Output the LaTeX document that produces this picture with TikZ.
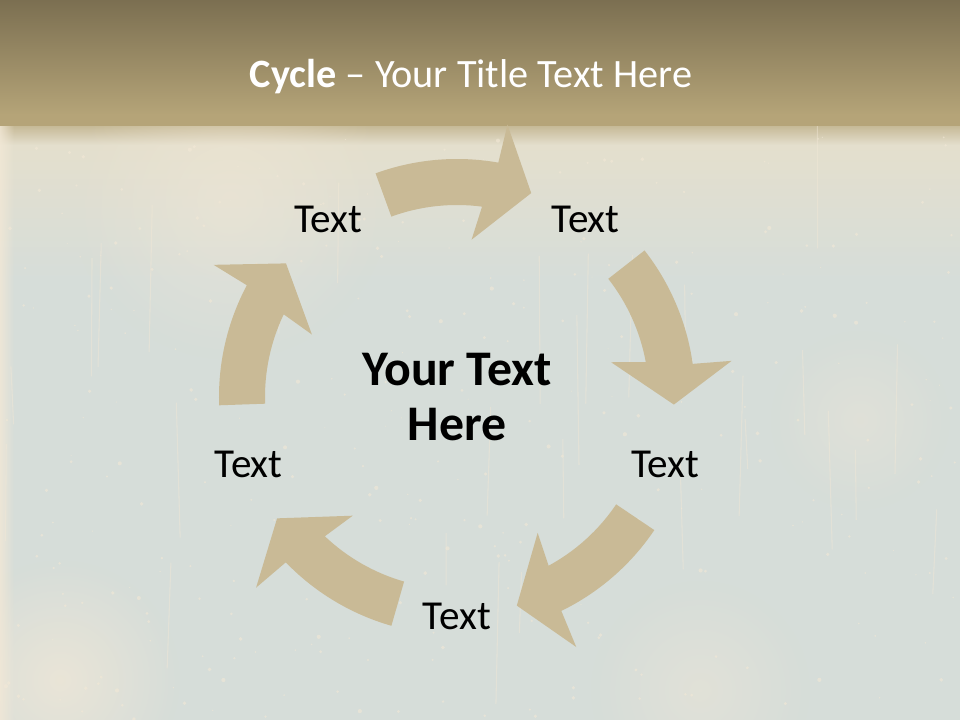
\documentclass[tikz,border=0pt]{standalone}
\usepackage{fontspec}
\setmainfont{Carlito}
\usetikzlibrary{fadings,calc}
\definecolor{bandtop}{HTML}{7B6F51}
\definecolor{bandbot}{HTML}{B5A478}
\definecolor{paper}{HTML}{D6DDD9}
\definecolor{mist}{HTML}{E4DFCD}
\definecolor{cream}{HTML}{F2E8D6}
\definecolor{arrowtan}{HTML}{C9BA96}
\tikzfading[name=softspot, inner color=transparent!0, outer color=transparent!100]
\begin{document}
\begin{tikzpicture}[x=0.75bp,y=0.75bp]
      % Define styles for the cycle
      \tikzset{
        steplabel/.style={inner sep=0pt, text=black,
          font=\fontsize{31}{37}\selectfont},
        hubtext/.style={align=center, inner sep=0pt, text=black,
          font=\fontsize{37.5}{42}\selectfont\bfseries},
        cyclearrow/.pic={
          \fill[arrowtan] (110:238) arc[start angle=110, end angle=80, radius=238]
            -- (79.5:277) -- (70:217) -- (84.7:158) -- (82.5:192)
            arc[start angle=82.5, end angle=110, radius=192] -- cycle;
        }
      }
      \useasboundingbox (0,0) rectangle (960,720);

      % Background paper
      \fill[paper] (0,0) rectangle (960,720);
      \shade[top color=mist, bottom color=paper] (0,440) rectangle (960,575);
      \shade[top color=bandbot!70!mist, bottom color=mist] (0,575) rectangle (960,596);
      \fill[cream, path fading=east, opacity=.8] (0,0) rectangle (14,596);
      \fill[cream, path fading=softspot, opacity=.7] (60,40) circle (120);
      \fill[cream, path fading=softspot, opacity=.5] (230,520) circle (160);
      \fill[cream, path fading=softspot, opacity=.4] (700,30) circle (110);
      \fill[cream, path fading=softspot, opacity=.35] (860,300) circle (90);

      % Scratches and specks
      \pgfmathsetseed{42}
      \foreach \i in {1,...,320} {
        \pgfmathsetmacro{\px}{rnd*960}
        \pgfmathsetmacro{\py}{rnd*590}
        \pgfmathsetmacro{\pr}{0.5+rnd*1.6}
        \fill[cream, opacity=.6] (\px,\py) circle (\pr);
      }
      \foreach \i in {1,...,28} {
        \pgfmathsetmacro{\px}{rnd*960}
        \pgfmathsetmacro{\py}{rnd*480}
        \pgfmathsetmacro{\pl}{40+rnd*110}
        \pgfmathsetmacro{\pd}{rnd*8-4}
        \draw[cream, opacity=.45, line width=.8] (\px,\py) -- ++(\pd,\pl);
      }

      % Title band
      \shade[top color=bandtop, bottom color=bandbot] (0,605) rectangle (960,720);
      \fill[bandbot] (0,594) rectangle (960,606);
      \node[text=white, inner sep=0pt, anchor=base,
        font=\fontsize{30.3}{36}\selectfont] (title) at (471,632)
        {\textbf{Cycle} – Your Title Text Here};

      % Centre of the cycle
      \coordinate (c) at (457,323);
      \node[hubtext] (hub) at (c) {Your Text\\Here};

      % Arrows, clockwise
      \pic at (c) {cyclearrow};
      \pic[rotate=-72] at (c) {cyclearrow};
      \pic[rotate=-144] at (c) {cyclearrow};
      \pic[rotate=-216] at (c) {cyclearrow};
      \pic[rotate=-288] at (c) {cyclearrow};

      % Step labels
      \node[steplabel] (topright) at ($(c)+(54:219)$) {Text};
      \node[steplabel] (right) at ($(c)+(-18:219)$) {Text};
      \node[steplabel] (bottom) at ($(c)+(-90:219)$) {Text};
      \node[steplabel] (left) at ($(c)+(198:219)$) {Text};
      \node[steplabel] (topleft) at ($(c)+(126:219)$) {Text};
\end{tikzpicture}
\end{document}
